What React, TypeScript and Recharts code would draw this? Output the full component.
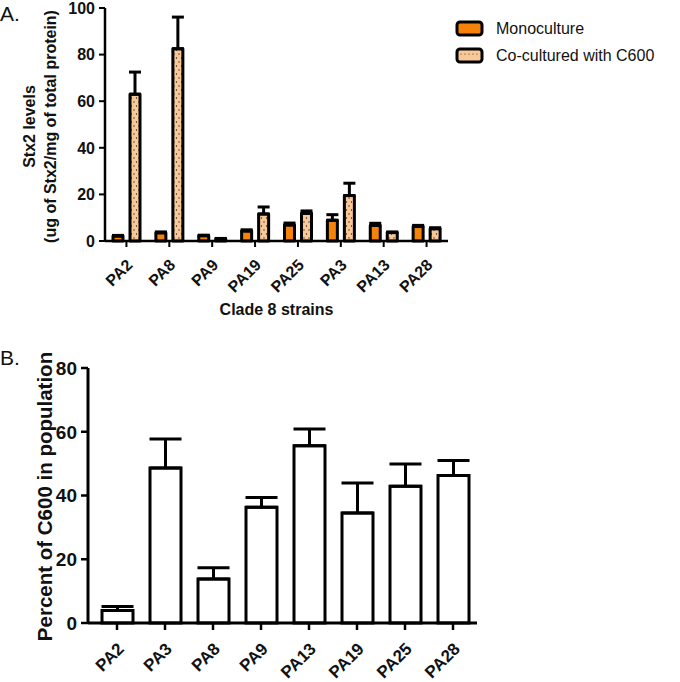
import React from 'react';
import { BarChart, Bar, XAxis, YAxis, ErrorBar } from 'recharts';

// ---------- Panel A data ----------
const strainsA = ['PA2', 'PA8', 'PA9', 'PA19', 'PA25', 'PA3', 'PA13', 'PA28'];
const monoValues = [2.1, 3.5, 2.3, 4.3, 6.9, 8.9, 6.7, 6.2];
const monoErrors = [0.3, 0.4, 0.2, 0.5, 0.8, 2.4, 0.9, 0.5];
const coValues = [63.0, 82.5, 0.9, 11.6, 11.9, 19.5, 3.6, 5.3];
const coErrors = [9.5, 13.6, 0.2, 3.0, 1.0, 5.3, 0.3, 0.4];
const yTicksA = [0, 20, 40, 60, 80, 100];
const legendNames = ['Monoculture', 'Co-cultured with C600'];

// ---------- Panel B data ----------
const strainsB = ['PA2', 'PA3', 'PA8', 'PA9', 'PA13', 'PA19', 'PA25', 'PA28'];
const percentValues = [3.9, 48.6, 13.8, 36.3, 55.6, 34.5, 42.9, 46.3];
const percentErrors = [1.3, 9.1, 3.5, 3.1, 5.3, 9.4, 7.0, 4.7];
const yTicksB = [0, 20, 40, 60, 80];

const dataA = strainsA.map((s, i) => ({
  strain: s,
  mono: monoValues[i],
  monoErr: [0, monoErrors[i]],
  co: coValues[i],
  coErr: [0, coErrors[i]],
}));

const dataB = strainsB.map((s, i) => ({
  strain: s,
  pct: percentValues[i],
  pctErr: [0, percentErrors[i]],
}));

const FONT = '"Liberation Sans", Arial, Helvetica, sans-serif';
const INK = '#111';
const ORANGE = '#F7820A';
const PEACH = '#F9C896';

const AngledTick = (props: any) => {
  const { x, y, payload, fontSize, dx = 4, dy = 9 } = props;
  return (
    <g transform={`translate(${x + dx},${y + dy})`}>
      <text
        x={0}
        y={0}
        textAnchor="end"
        transform="rotate(-45)"
        fontFamily={FONT}
        fontWeight="bold"
        fontSize={fontSize}
        fill={INK}
      >
        {payload.value}
      </text>
    </g>
  );
};

const YTick = (props: any) => {
  const { x, y, payload, fontSize } = props;
  return (
    <text
      x={x - 2}
      y={y}
      dy="0.36em"
      textAnchor="end"
      fontFamily={FONT}
      fontWeight="bold"
      fontSize={fontSize}
      fill={INK}
    >
      {payload.value}
    </text>
  );
};

const YLabelA = (props: any) => {
  const { viewBox } = props;
  const cy = viewBox.y + viewBox.height / 2 + 2;
  const x1 = 29;
  const x2 = 50;
  return (
    <g fontFamily={FONT} fontWeight="bold" fontSize={16} fill={INK}>
      <text x={x1} y={cy} textAnchor="middle" dominantBaseline="central" transform={`rotate(-90, ${x1}, ${cy})`}>
        Stx2 levels
      </text>
      <text x={x2} y={cy} textAnchor="middle" dominantBaseline="central" transform={`rotate(-90, ${x2}, ${cy})`}>
        (ug of Stx2/mg of total protein)
      </text>
    </g>
  );
};

const YLabelB = (props: any) => {
  const { viewBox } = props;
  const cy = viewBox.y + viewBox.height / 2 + 1;
  const x1 = 44;
  return (
    <text
      x={x1}
      y={cy}
      textAnchor="middle"
      dominantBaseline="central"
      transform={`rotate(-90, ${x1}, ${cy})`}
      fontFamily={FONT}
      fontWeight="bold"
      fontSize={20.5}
      fill={INK}
    >
      Percent of C600 in population
    </text>
  );
};

const LegendBox = () => {
  const items = [
    { name: legendNames[0], fill: ORANGE, dotted: false },
    { name: legendNames[1], fill: PEACH, dotted: true },
  ];
  return (
    <div style={{ position: 'absolute', left: 455, top: 15, fontFamily: FONT, fontSize: 16, color: INK }}>
      {items.map((it) => (
        <div key={it.name} style={{ display: 'flex', alignItems: 'center', height: 27 }}>
          <svg width={30} height={18} style={{ marginRight: 11 }}>
            <rect x={2} y={2} width={25} height={13} rx={3} fill={it.fill} stroke="#000" strokeWidth={3} />
            {it.dotted &&
              [7, 11, 15, 19, 23].map((dx) => <circle key={dx} cx={dx - 1} cy={7} r={0.6} fill="#333" />)}
          </svg>
          <span>{it.name}</span>
        </div>
      ))}
    </div>
  );
};

const App = () => {
  return (
    <div style={{ position: 'absolute', left: 0, top: 0, width: 680, height: 682, background: '#fff' }}>
      <div style={{ position: 'absolute', left: 0, top: 2, fontFamily: FONT, fontSize: 21, color: INK }}>A.</div>
      <div style={{ position: 'absolute', left: 0, top: 346, fontFamily: FONT, fontSize: 21, color: INK }}>B.</div>

      <div style={{ position: 'absolute', left: 0, top: 0 }}>
        <BarChart
          width={680}
          height={330}
          data={dataA}
          margin={{ top: 8, right: 232, left: 0, bottom: 29 }}
          barSize={10}
          barGap={7}
        >
          <defs>
            <pattern id="dots" width={5} height={8} patternUnits="userSpaceOnUse">
              <rect width={5} height={8} fill={PEACH} />
              <circle cx={1.5} cy={2} r={0.65} fill="#222" />
              <circle cx={4} cy={6} r={0.65} fill="#222" />
            </pattern>
          </defs>
          <XAxis
            dataKey="strain"
            height={60}
            interval={0}
            axisLine={{ stroke: '#000', strokeWidth: 2.5 }}
            tickLine={{ stroke: '#000', strokeWidth: 2 }}
            tickSize={6}
            tick={<AngledTick fontSize={16} dx={7} dy={17} />}
            label={{
              value: 'Clade 8 strains',
              position: 'insideBottom',
              offset: -14,
              style: { fontFamily: FONT, fontWeight: 'bold', fontSize: 16, fill: INK },
            }}
          />
          <YAxis
            width={105}
            domain={[0, 100]}
            ticks={yTicksA}
            interval={0}
            axisLine={{ stroke: '#000', strokeWidth: 2.5 }}
            tickLine={{ stroke: '#000', strokeWidth: 2 }}
            tickSize={6}
            tick={<YTick fontSize={16} />}
            label={<YLabelA />}
          />
          <Bar
            dataKey="mono"
            name={legendNames[0]}
            fill={ORANGE}
            stroke="#000"
            strokeWidth={3}
            strokeLinejoin="round"
            isAnimationActive={false}
          >
            <ErrorBar dataKey="monoErr" width={6} stroke="#000" strokeWidth={3} direction="y" />
          </Bar>
          <Bar
            dataKey="co"
            name={legendNames[1]}
            fill="url(#dots)"
            stroke="#000"
            strokeWidth={3}
            strokeLinejoin="round"
            isAnimationActive={false}
          >
            <ErrorBar dataKey="coErr" width={6} stroke="#000" strokeWidth={3} direction="y" />
          </Bar>
        </BarChart>
      </div>

      <LegendBox />

      <div style={{ position: 'absolute', left: 0, top: 330 }}>
        <BarChart
          width={680}
          height={352}
          data={dataB}
          margin={{ top: 38, right: 203, left: 0, bottom: 0 }}
          barSize={31}
        >
          <XAxis
            dataKey="strain"
            height={59}
            interval={0}
            padding={{ left: 5, right: 0 }}
            axisLine={{ stroke: '#000', strokeWidth: 3 }}
            tickLine={{ stroke: '#000', strokeWidth: 2.5 }}
            tickSize={7}
            tick={<AngledTick fontSize={17} dx={8} dy={18} />}
          />
          <YAxis
            width={88}
            domain={[0, 80]}
            ticks={yTicksB}
            interval={0}
            axisLine={{ stroke: '#000', strokeWidth: 3 }}
            tickLine={{ stroke: '#000', strokeWidth: 2.5 }}
            tickSize={7}
            tick={<YTick fontSize={19} />}
            label={<YLabelB />}
          />
          <Bar
            dataKey="pct"
            fill="#fff"
            stroke="#000"
            strokeWidth={3}
            isAnimationActive={false}
          >
            <ErrorBar dataKey="pctErr" width={16} stroke="#000" strokeWidth={3} direction="y" />
          </Bar>
        </BarChart>
      </div>
    </div>
  );
};

export default App;
